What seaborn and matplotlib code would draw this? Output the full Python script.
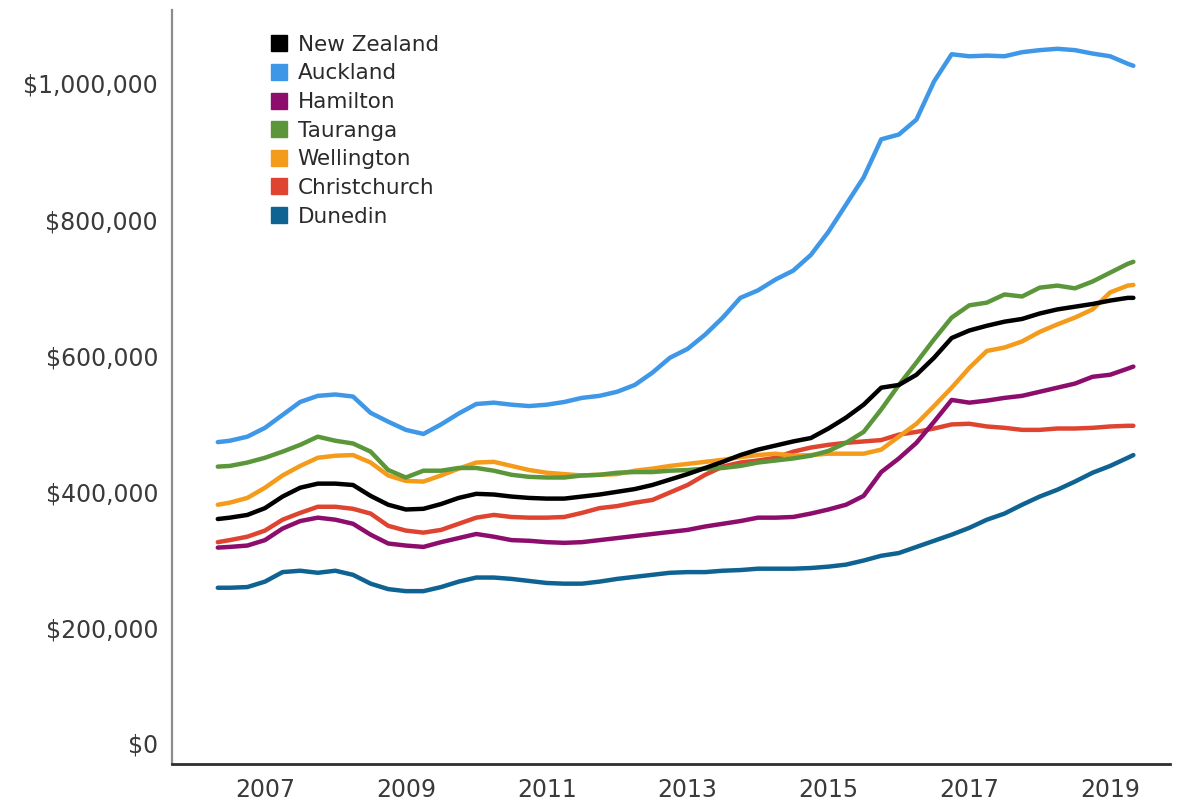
import matplotlib
matplotlib.use("Agg")
import matplotlib.pyplot as plt
from matplotlib.lines import Line2D
from matplotlib.ticker import FuncFormatter
import seaborn as sns
import pandas as pd

# ---- data (median house price, NZD) ----
years = [2006.33, 2006.5] + [round(2006.75 + 0.25 * i, 2) for i in range(51)] + [2019.33]

new_zealand = [360, 362, 366, 376, 393, 406, 412, 412, 410, 394, 381, 374, 375, 382, 391, 397,
               396, 393, 391, 390, 390, 393, 396, 400, 404, 410, 418, 426, 435, 444, 454, 462,
               468, 474, 479, 493, 509, 528, 553, 557, 572, 597, 626, 637, 644, 650, 654, 662,
               668, 672, 676, 681, 685, 685]
auckland = [473, 475, 481, 494, 513, 532, 541, 543, 540, 516, 503, 491, 485, 499, 515, 529,
            531, 528, 526, 528, 532, 538, 541, 547, 557, 575, 597, 610, 631, 656, 685, 696,
            712, 725, 748, 782, 822, 862, 918, 925, 947, 1003, 1043, 1040, 1041, 1040, 1046, 1049,
            1051, 1049, 1044, 1040, 1029, 1026]
hamilton = [318, 319, 321, 329, 346, 357, 362, 359, 353, 337, 324, 321, 319, 326, 332, 338,
            334, 329, 328, 326, 325, 326, 329, 332, 335, 338, 341, 344, 349, 353, 357, 362,
            362, 363, 368, 374, 381, 394, 429, 449, 472, 503, 535, 531, 534, 538, 541, 547,
            553, 559, 569, 572, 581, 584]
tauranga = [437, 438, 443, 450, 459, 469, 481, 475, 471, 459, 432, 421, 431, 431, 435, 435,
            431, 425, 422, 421, 421, 424, 425, 428, 429, 429, 431, 432, 434, 435, 438, 443,
            446, 449, 453, 460, 472, 488, 521, 557, 590, 624, 656, 674, 678, 690, 687, 700,
            703, 699, 709, 722, 735, 738]
wellington = [381, 384, 391, 406, 424, 438, 450, 453, 454, 443, 424, 416, 415, 424, 434, 443,
              444, 438, 432, 428, 426, 424, 425, 426, 431, 434, 438, 441, 444, 447, 451, 454,
              456, 453, 454, 456, 456, 456, 462, 481, 500, 526, 553, 582, 607, 612, 621, 635,
              646, 656, 668, 693, 703, 704]
christchurch = [326, 329, 334, 343, 359, 369, 378, 378, 375, 368, 350, 343, 340, 344, 353, 362,
                366, 363, 362, 362, 363, 369, 376, 379, 384, 388, 399, 410, 425, 437, 443, 446,
                450, 459, 465, 469, 472, 474, 476, 484, 488, 493, 499, 500, 496, 494, 491, 491,
                493, 493, 494, 496, 497, 497]
dunedin = [259, 259, 260, 268, 282, 284, 281, 284, 278, 265, 257, 254, 254, 260, 268, 274,
           274, 272, 269, 266, 265, 265, 268, 272, 275, 278, 281, 282, 282, 284, 285, 287,
           287, 287, 288, 290, 293, 299, 306, 310, 319, 328, 337, 347, 359, 368, 381, 393,
           403, 415, 428, 438, 450, 454]

regions = ["New Zealand", "Auckland", "Hamilton", "Tauranga", "Wellington", "Christchurch", "Dunedin"]
series = [new_zealand, auckland, hamilton, tauranga, wellington, christchurch, dunedin]
colors = ["#000000", "#3f97e8", "#8c0d6c", "#5b963a", "#f59b1c", "#de4430", "#0f6392"]

x_ticks = [2007, 2009, 2011, 2013, 2015, 2017, 2019]
y_ticks = [200000, 400000, 600000, 800000, 1000000]

rows = []
for name, vals in zip(regions, series):
    for yr, v in zip(years, vals):
        rows.append({"year": yr, "price": v * 1000, "region": name})
df = pd.DataFrame(rows)

# ---- plot ----
sns.set_theme(style="white")
plt.rcParams["font.family"] = ["DejaVu Sans"]

fig = plt.figure(figsize=(11.77, 8.02), dpi=100)
ax = fig.add_axes([172 / 1177, 1 - 764 / 802, (1170 - 172) / 1177, (764 - 10) / 802])

palette = dict(zip(regions, colors))
sns.lineplot(data=df, x="year", y="price", hue="region", hue_order=regions[::-1],
             palette=palette, linewidth=3.2, ax=ax, legend=False)
for ln in ax.get_lines():
    ln.set_solid_capstyle("round")
    ln.set_solid_joinstyle("round")

ax.set_xlim(2005.68, 2019.85)
ax.set_ylim(0, 1108000)
ax.set_xticks(x_ticks)
ax.set_xticklabels([str(t) for t in x_ticks])
ax.set_yticks(y_ticks)
ax.yaxis.set_major_formatter(FuncFormatter(lambda v, p: "${:,.0f}".format(v)))
ax.set_xlabel("")
ax.set_ylabel("")

tick_color = "#3a3a3a"
ax.tick_params(axis="both", length=0, labelsize=17, colors=tick_color, pad=10)

for s in ["top", "right"]:
    ax.spines[s].set_visible(False)
ax.spines["left"].set_color("#8c8c8c")
ax.spines["left"].set_linewidth(1.6)
ax.spines["bottom"].set_color("#2e2e2e")
ax.spines["bottom"].set_linewidth(2.0)

# the "$0" label sits a little above the axis line in the reference
ax.annotate("$0", xy=(0, 0), xycoords=("axes fraction", "data"),
            xytext=(-10, 13), textcoords="offset points",
            ha="right", va="center", fontsize=17, color=tick_color)

handles = [Line2D([0], [0], marker="s", linestyle="none", markersize=11.5,
                  markerfacecolor=c, markeredgecolor=c) for c in colors]
ax.legend(handles, regions, loc="upper left", bbox_to_anchor=(0.099, 0.967),
          frameon=False, fontsize=15.5, handlelength=0.8, handletextpad=0.45,
          labelspacing=0.40, borderaxespad=0, borderpad=0, labelcolor="#2a2a2a")

fig.savefig("out.png", dpi=100)
